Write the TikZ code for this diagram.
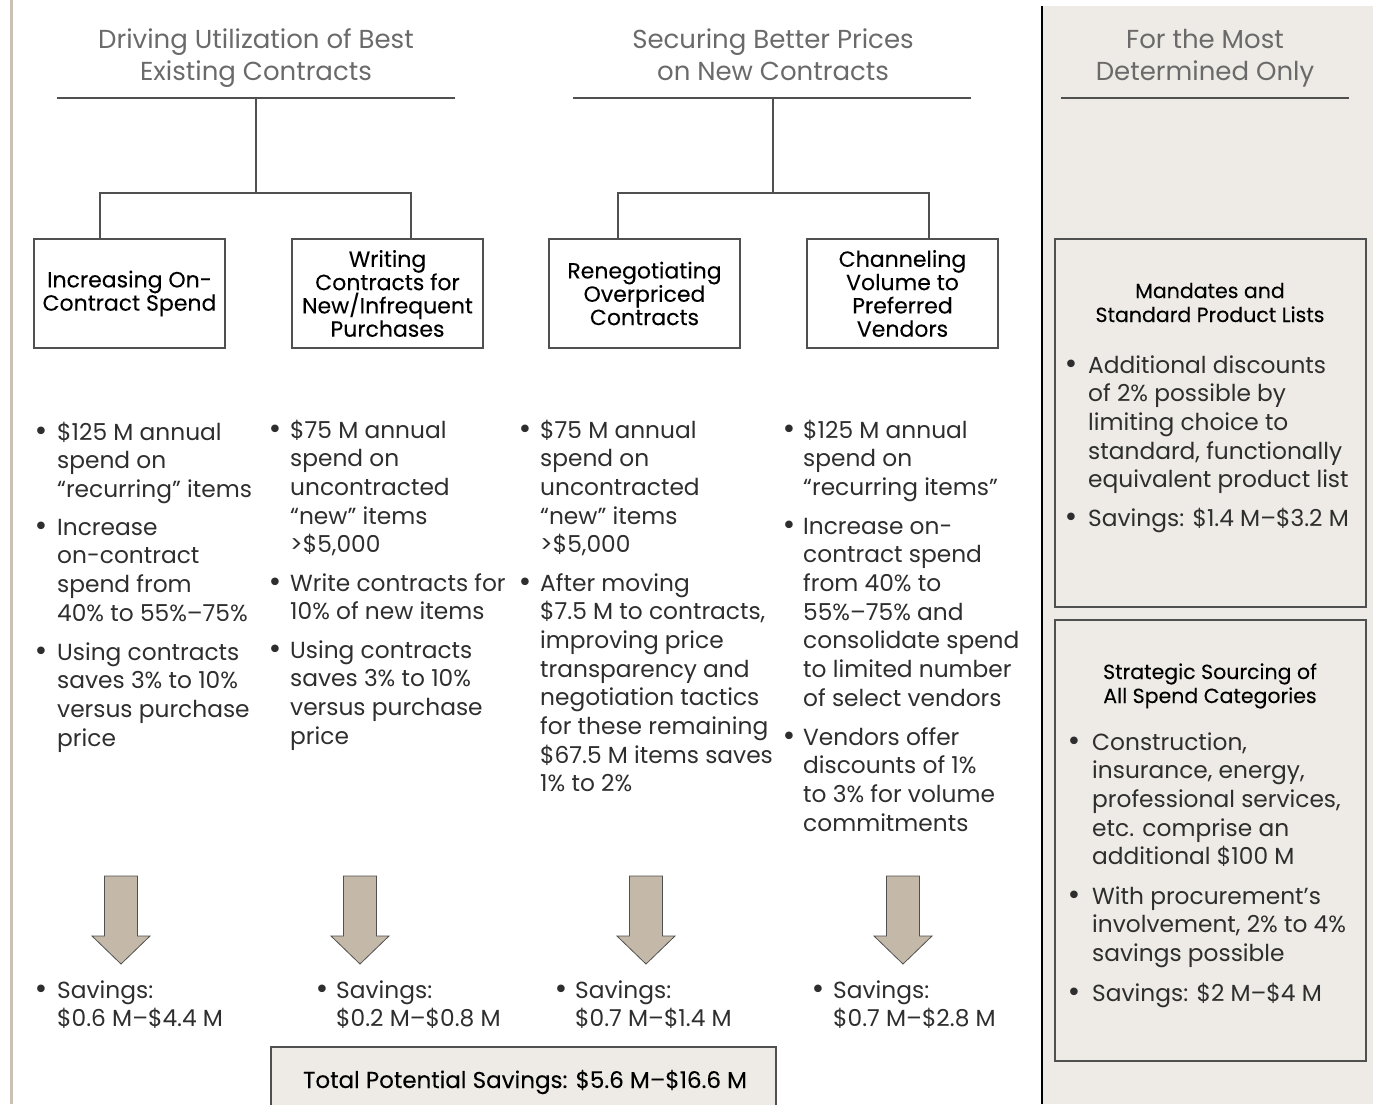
\documentclass[tikz,border=0pt]{standalone}
\usepackage{fontspec}
\setmainfont{Poppins}
\newfontfamily\dotfont{DejaVu Sans}
\definecolor{headgray}{HTML}{6A6A6A}
\definecolor{ink}{HTML}{2E2E2E}
\definecolor{rulegray}{HTML}{505050}
\definecolor{panelfill}{HTML}{EEEBE6}
\definecolor{arrowfill}{HTML}{C4B9A8}
\definecolor{edgetan}{HTML}{C9C1B4}
% stacked lines whose baseline is that of the first line
\newcommand\linesL[1]{\begin{tabular}[t]{@{}l@{}}#1\end{tabular}}
\newcommand\linesC[1]{\begin{tabular}[t]{@{}c@{}}#1\end{tabular}}
\tikzset{
  heading/.style={inner sep=0pt, anchor=base, text=headgray,
    font=\fontsize{26}{32}\selectfont},
  hrule/.style={draw=rulegray, line width=1.3pt},
  tree/.style={draw=rulegray, line width=1.3pt},
  catbox/.style={draw=rulegray, line width=1.1pt, fill=white, align=center,
    minimum width=191pt, minimum height=109pt, inner sep=0pt, text=black,
    font=\addfontfeatures{FakeBold=0.12}\fontsize{22}{23.3}\selectfont},
  bodytext/.style={inner sep=0pt, anchor=base west, text=ink,
    font=\fontsize{23.3}{28.7}\selectfont},
  dot/.style={inner sep=0pt, anchor=base, text=ink,
    font=\dotfont\fontsize{26}{28}\selectfont},
  subhead/.style={inner sep=0pt, anchor=base, text=black,
    font=\addfontfeatures{FakeBold=0.12}\fontsize{20.5}{24}\selectfont},
  sidebox/.style={draw=rulegray, line width=1.1pt},
  blockarrow/.style={draw=rulegray, line width=0.8pt, fill=arrowfill},
  savearrow/.pic={\path[blockarrow] (-16.5,0) -- (16.5,0) -- (16.5,60) -- (29,60)
    -- (0,88) -- (-29,60) -- (-16.5,60) -- cycle;}
}
\begin{document}
\begin{tikzpicture}[x=1pt, y=-1pt]
\path[use as bounding box] (0,0) rectangle (1376,1104);

% side panel and left margin rule
\fill[panelfill] (1042,6) rectangle (1373,1104);
\draw[black, line width=1.2pt] (1042,6) -- (1042,1104);
\draw[edgetan, line width=3pt] (11,0) -- (11,1104);

% column headings
\node[heading] (h1) at (256,48) {\linesC{Driving Utilization of Best\\Existing Contracts}};
\node[heading] (h2) at (773,48) {\linesC{Securing Better Prices\\on New Contracts}};
\node[heading] (h3) at (1205,48) {\linesC{For the Most\\Determined Only}};
\draw[hrule] (57,98) -- (455,98);
\draw[hrule] (573,98) -- (971,98);
\draw[hrule] (1061,98) -- (1349,98);

% category boxes
\node[catbox] (b1) at (129.5,293.5) {Increasing On-\\Contract Spend};
\node[catbox] (b2) at (387.5,293.5) {Writing\\Contracts for\\New/Infrequent\\Purchases};
\node[catbox] (b3) at (644.5,293.5) {Renegotiating\\Overpriced\\Contracts};
\node[catbox] (b4) at (902.5,293.5) {Channeling\\Volume to\\Preferred\\Vendors};

% tree connectors
\coordinate (t1) at (256,98);
\coordinate (t2) at (773,98);
\coordinate (j1) at (256,193);
\coordinate (j2) at (773,193);
\coordinate (d1) at (100,239);
\coordinate (d2) at (411,239);
\coordinate (d3) at (618,239);
\coordinate (d4) at (929,239);
\draw[tree] (t1) -- (j1);
\draw[tree] (j1) -| (d1);
\draw[tree] (j1) -| (d2);
\draw[tree] (t2) -- (j2);
\draw[tree] (j2) -| (d3);
\draw[tree] (j2) -| (d4);

% column 1
\node[dot] (c1a) at (41,440) {•};
\node[bodytext] (c1at) at (57,440) {\linesL{\$125 M annual\\spend on\\“recurring” items}};
\node[dot] (c1b) at (41,535) {•};
\node[bodytext] (c1bt) at (57,535) {\linesL{Increase\\on-contract\\spend from\\40\% to 55\%–75\%}};
\node[dot] (c1c) at (41,660) {•};
\node[bodytext] (c1ct) at (57,660) {\linesL{Using contracts\\saves 3\% to 10\%\\versus purchase\\price}};

% column 2
\node[dot] (c2a) at (275,438) {•};
\node[bodytext] (c2at) at (290,438) {\linesL{\$75 M annual\\spend on\\uncontracted\\“new” items\\>\$5,000}};
\node[dot] (c2b) at (275,591) {•};
\node[bodytext] (c2bt) at (290,591) {\linesL{Write contracts for\\10\% of new items}};
\node[dot] (c2c) at (275,658) {•};
\node[bodytext] (c2ct) at (290,658) {\linesL{Using contracts\\saves 3\% to 10\%\\versus purchase\\price}};

% column 3
\node[dot] (c3a) at (525,438) {•};
\node[bodytext] (c3at) at (540,438) {\linesL{\$75 M annual\\spend on\\uncontracted\\“new” items\\>\$5,000}};
\node[dot] (c3b) at (525,591) {•};
\node[bodytext] (c3bt) at (540,591) {\linesL{After moving\\\$7.5 M to contracts,\\improving price\\transparency and\\negotiation tactics\\for these remaining\\\$67.5 M items saves\\1\% to 2\%}};

% column 4
\node[dot] (c4a) at (789,438) {•};
\node[bodytext] (c4at) at (803,438) {\linesL{\$125 M annual\\spend on\\“recurring items”}};
\node[dot] (c4b) at (789,534) {•};
\node[bodytext] (c4bt) at (803,534) {\linesL{Increase on-\\contract spend\\from 40\% to\\55\%–75\% and\\consolidate spend\\to limited number\\of select vendors}};
\node[dot] (c4c) at (789,745) {•};
\node[bodytext] (c4ct) at (803,745) {\linesL{Vendors offer\\discounts of 1\%\\to 3\% for volume\\commitments}};

% savings arrows
\pic at (121,876) {savearrow};
\pic at (360,876) {savearrow};
\pic at (646,876) {savearrow};
\pic at (903,876) {savearrow};

% savings per lever
\node[dot] (s1) at (41,998) {•};
\node[bodytext] (s1t) at (57,998) {\linesL{Savings:\\\$0.6 M–\$4.4 M}};
\node[dot] (s2) at (322,998) {•};
\node[bodytext] (s2t) at (336,998) {\linesL{Savings:\\\$0.2 M–\$0.8 M}};
\node[dot] (s3) at (561,998) {•};
\node[bodytext] (s3t) at (575,998) {\linesL{Savings:\\\$0.7 M–\$1.4 M}};
\node[dot] (s4) at (818,998) {•};
\node[bodytext] (s4t) at (833,998) {\linesL{Savings:\\\$0.7 M–\$2.8 M}};

% total
\path[fill=panelfill, draw=rulegray, line width=1.1pt] (271,1047) rectangle (776,1110);
\node[inner sep=0pt, anchor=base, text=black,
  font=\addfontfeatures{FakeBold=0.12}\fontsize{23}{26}\selectfont]
  (tot) at (525,1088) {Total Potential Savings: \$5.6 M–\$16.6 M};

% side boxes
\draw[sidebox] (1055,239) rectangle (1366,607);
\node[subhead] (m1) at (1210,298) {\linesC{Mandates and\\Standard Product Lists}};
\node[dot] (m1a) at (1071,373) {•};
\node[bodytext] (m1at) at (1088,373) {\linesL{Additional discounts\\of 2\% possible by\\limiting choice to\\standard, functionally\\equivalent product list}};
\node[dot] (m1b) at (1071,526) {•};
\node[bodytext] (m1bt) at (1088,526) {Savings: \$1.4 M–\$3.2 M};

\draw[sidebox] (1055,620) rectangle (1366,1061);
\node[subhead] (m2) at (1210,679) {\linesC{Strategic Sourcing of\\All Spend Categories}};
\node[dot] (m2a) at (1074,750) {•};
\node[bodytext] (m2at) at (1092,750) {\linesL{Construction,\\insurance, energy,\\professional services,\\etc. comprise an\\additional \$100 M}};
\node[dot] (m2b) at (1074,904) {•};
\node[bodytext] (m2bt) at (1092,904) {\linesL{With procurement’s\\involvement, 2\% to 4\%\\savings possible}};
\node[dot] (m2c) at (1074,1001) {•};
\node[bodytext] (m2ct) at (1092,1001) {Savings: \$2 M–\$4 M};
\end{tikzpicture}
\end{document}
